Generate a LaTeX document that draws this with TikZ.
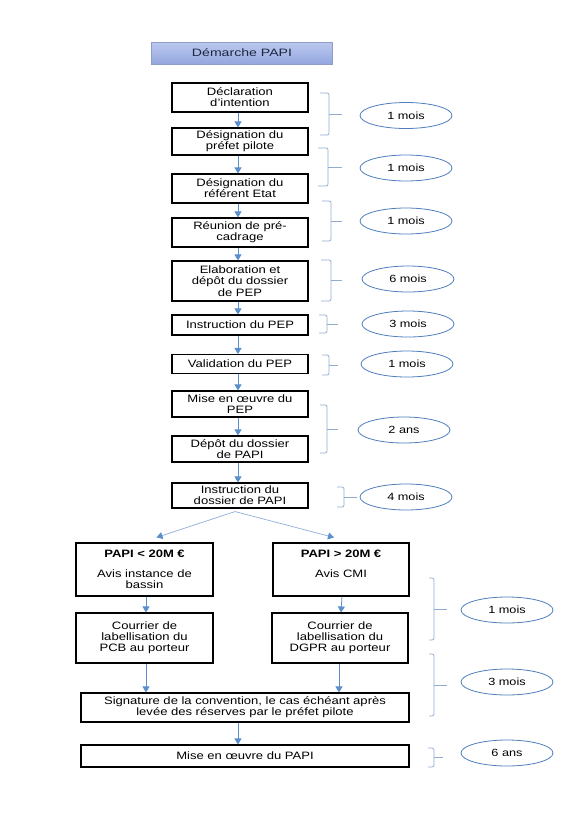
\documentclass[tikz,border=0pt]{standalone}
\usepackage{fontspec}
\setmainfont{Liberation Sans}[FakeStretch=1.22]
\usetikzlibrary{arrows.meta,shapes.geometric}
\definecolor{arrowblue}{HTML}{5B8FCB}
\definecolor{linkblue}{HTML}{8EAEDC}
\definecolor{bracecol}{HTML}{93AACF}
\definecolor{ellcol}{HTML}{4F7FBE}
\definecolor{titletop}{HTML}{BCC9EF}
\definecolor{titlebot}{HTML}{93A6DE}
\definecolor{titleborder}{HTML}{8E9CC8}
\definecolor{titletext}{HTML}{1E2740}
\newcommand\durbrace[5]{%
  \draw[bracestyle,rounded corners=2pt] (#1,#4) -- (#2,#4) -- (#2,#5) -- (#1,#5);
  \draw[bracestyle] (#2,{(#4+#5)/2}) -- (#3,{(#4+#5)/2});}
\tikzset{
  box/.style={draw=black, line width=1.1pt, fill=white, minimum width=136pt,
    text width=132pt, align=center, inner sep=0pt,
    font=\fontsize{10.7}{11.2}\selectfont},
  dur/.style={ellipse, draw=ellcol, line width=0.8pt, fill=white,
    minimum width=92pt, minimum height=26pt, inner sep=0pt,
    font=\fontsize{10.4}{11.2}\selectfont},
  flow/.style={draw=arrowblue, line width=0.8pt,
    -{Triangle[width=7pt,length=6pt]}},
  link/.style={draw=linkblue, line width=0.7pt,
    -{Triangle[width=7pt,length=6pt,fill=arrowblue,color=arrowblue]}},
  bracestyle/.style={draw=bracecol, line width=0.7pt},
  titlebox/.style={draw=titleborder, line width=0.6pt, top color=titletop,
    bottom color=titlebot, minimum width=181pt, minimum height=22pt,
    inner sep=0pt, text=titletext, font=\fontsize{10.7}{11.2}\selectfont}
}
\begin{document}
\begin{tikzpicture}[x=1pt,y=-1pt]
\useasboundingbox (0,0) rectangle (579,831);
\fill[white] (0,0) rectangle (579,831);
\node[titlebox] (title) at (242,53) {\scalebox{1.08}[1]{Démarche PAPI}};
% main column
\node[box,minimum height=29pt] (b1) at (240,97.5) {Déclaration\\d’intention};
\node[box,minimum height=27pt] (b2) at (240,141.5) {Désignation du\\préfet pilote};
\node[box,minimum height=29pt] (b3) at (240,188.5) {Désignation du\\référent Etat};
\node[box,minimum height=29pt] (b4) at (240,232.5) {Réunion de pré-\\cadrage};
\node[box,minimum height=40pt] (b5) at (240,281) {Elaboration et\\dépôt du dossier\\de PEP};
\node[box,minimum height=20pt] (b6) at (240,325) {Instruction du PEP};
\node[box,minimum height=19pt] (b7) at (240,364) {Validation du PEP};
\node[box,minimum height=26pt] (b8) at (240,404) {Mise en œuvre du\\PEP};
\node[box,minimum height=26pt] (b9) at (240,449) {Dépôt du dossier\\de PAPI};
\node[box,minimum height=25pt] (b10) at (240,495.5) {Instruction du\\dossier de PAPI};
% branches
\node[box,minimum width=137pt,minimum height=53pt] (l1) at (144.5,569.5)
  {\textbf{PAPI < 20M €}\\[8.5pt]Avis instance de\\bassin};
\node[box,minimum height=53pt] (r1) at (341,569.5)
  {\textbf{PAPI > 20M €}\\[8.5pt]Avis CMI\\\mbox{}};
\node[box,minimum width=137pt,minimum height=50pt] (l2) at (144.5,638)
  {Courrier de\\labellisation du\\PCB au porteur};
\node[box,minimum height=50pt] (r2) at (340,638)
  {Courrier de\\labellisation du\\DGPR au porteur};
\node[box,minimum width=328pt,text width=324pt,minimum height=29pt] (sig) at (245,707.5)
  {Signature de la convention, le cas échéant après\\levée des réserves par le préfet pilote};
\node[box,minimum width=328pt,text width=324pt,minimum height=22pt] (mop) at (245,756)
  {Mise en œuvre du PAPI};
% arrows
\foreach \a/\b in {b1/b2,b2/b3,b3/b4,b4/b5,b5/b6,b6/b7,b7/b8,b8/b9,b9/b10}
  \draw[flow] ([xshift=-2pt]\a.south) -- ([xshift=-2pt]\b.north);
\draw[link] ([xshift=-5pt,yshift=-3pt]b10.south) -- ([xshift=12pt,yshift=5pt]l1.north);
\draw[link] ([xshift=-5pt,yshift=-3pt]b10.south) -- ([xshift=-7pt,yshift=5pt]r1.north);
\draw[flow] ([xshift=1.5pt]l1.south) -- ([xshift=1.5pt]l2.north);
\draw[flow] ([xshift=1pt]r1.south) -- ([xshift=1pt]r2.north);
\draw[flow] (l2.south) ++(1.5pt,0) coordinate (ls) -- (ls |- sig.north);
\draw[flow] (r2.south) ++(-1pt,0) coordinate (rs) -- (rs |- sig.north);
\draw[flow] ([xshift=-7pt]sig.south) -- ([xshift=-7pt]mop.north);
% durations
\node[dur] (e1) at (406,115.5) {1 mois};
\node[dur] (e2) at (406,168) {1 mois};
\node[dur] (e3) at (406,221) {1 mois};
\node[dur] (e4) at (408,279) {6 mois};
\node[dur] (e5) at (408,324) {3 mois};
\node[dur] (e6) at (407,364) {1 mois};
\node[dur] (e7) at (404,430) {2 ans};
\node[dur] (e8) at (406,497) {4 mois};
\node[dur] (e9) at (507,610) {1 mois};
\node[dur] (e10) at (507,682) {3 mois};
\node[dur] (e11) at (507,753) {6 ans};
% braces
\durbrace{320}{329}{342}{93}{135}
\durbrace{318}{328}{342}{148}{186}
\durbrace{322}{331}{342}{201}{241}
\durbrace{321}{331}{342}{260}{301}
\durbrace{319}{327}{338}{315}{333}
\durbrace{322}{329}{338}{355}{375}
\durbrace{320}{327}{338}{405}{453}
\durbrace{337}{344}{357}{487}{507}
\durbrace{429}{434}{447}{578}{640}
\durbrace{429}{434}{447}{654}{716}
\durbrace{428}{434}{443}{748}{767}
\end{tikzpicture}
\end{document}
